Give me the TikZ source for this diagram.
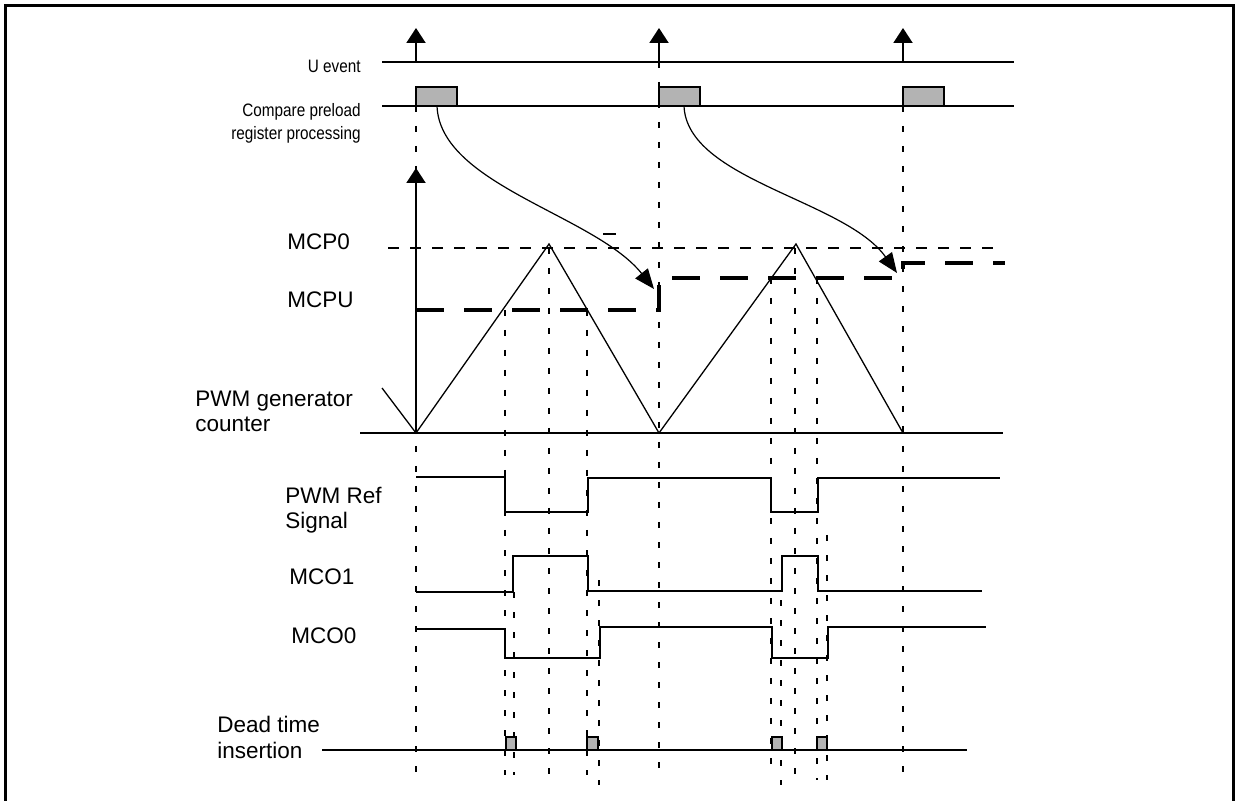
\documentclass[tikz,border=0pt]{standalone}
\usepackage{fontspec}
\setmainfont{Liberation Sans}
\newfontfamily\narrowsans[FakeStretch=0.85]{Liberation Sans}
\usetikzlibrary{arrows.meta}
\definecolor{slotgray}{RGB}{179,179,179}
\begin{document}
\begin{tikzpicture}[x=0.5pt, y=-0.5pt,
    sig/.style={line width=1pt},
    ramp/.style={line width=0.65pt},
    guide/.style={line width=1pt, dash pattern=on 3pt off 7pt},
    level/.style={line width=0.7pt, dash pattern=on 5.5pt off 5.5pt},
    cmp/.style={line width=2pt, dash pattern=on 14pt off 10pt},
    slot/.style={sig, fill=slotgray},
    toplbl/.style={font=\narrowsans\fontsize{9}{11.5}\selectfont, inner sep=0pt},
    lbl/.style={font=\fontsize{11.25}{12.75}\selectfont, inner sep=0pt, align=left},
    up/.style={-{Triangle[length=7.5pt,width=9.5pt]}},
    load/.style={-{Triangle[length=10pt,width=8pt]}, line width=0.6pt}]
    \useasboundingbox (0,0) rectangle (1236,801);

    % Frame
    \draw[line width=1.5pt] (5,801) |- (1233,6) -- (1233,801);

    % Time guides
    \foreach \t/\a/\b in {416/106/778, 659/62/778, 903/106/778,
                          505/310/775, 514/592/775, 549/248/778, 587/310/775, 599/580/785,
                          771/278/778, 781/600/785, 795/248/785, 817/278/780, 827/535/780}
        \draw[guide] (\t,\a) -- (\t,\b);

    % U event
    \draw[sig] (382,62) -- (1014,62);
    \foreach \t in {416,659,903}
        \draw[sig, up] (\t,62) -- (\t,28);
    \node[toplbl, anchor=base east] (uev) at (361,73) {U event};

    % Compare preload register processing
    \draw[sig] (382,106) -- (1014,106);
    \foreach \t in {416,659,903}
        \draw[slot] (\t,106) rectangle +(41,-19);
    \node[toplbl, anchor=base east, align=right] (cpr) at (361,140) {Compare preload\\register processing};

    % Counter
    \draw[sig] (360,433) -- (1003,433);
    \draw[sig, up] (416,433) -- (416,168);
    \draw[ramp] (382,388) -- (416,433) -- (549,244) -- (659,433) -- (796,244) -- (903,433);
    \node[lbl, anchor=base west] (cnt) at (195,432) {PWM generator\\counter};

    % Compare levels
    \draw[level] (388,248) -- (1000,248);
    \draw[cmp] (416,310) -- (659,310) -- (659,278) -- (903,278) -- (903,263) -- (1005,263);
    \draw[line width=0.7pt] (603,234) -- (616,234);
    \node[lbl, anchor=base west] (mcp0) at (287,250) {MCP0};
    \node[lbl, anchor=base west] (mcpu) at (287,308) {MCPU};

    % Preload transfer
    \draw[load] (437,106) .. controls (440,185) and (595,215) .. (654,289);
    \draw[load] (684,106) .. controls (687,180) and (845,200) .. (897,273);

    % PWM Ref Signal
    \draw[sig] (416,477) -- (505,477) -- (505,512) -- (588,512) -- (588,478) -- (771,478)
        -- (771,512) -- (818,512) -- (818,478) -- (1000,478);
    \node[lbl, anchor=base west] (ref) at (285,529) {PWM Ref\\Signal};

    % MCO1
    \draw[sig] (416,592) -- (513,592) -- (513,556) -- (588,556) -- (588,591) -- (782,591)
        -- (782,556) -- (818,556) -- (818,591) -- (982,591);
    \node[lbl, anchor=base west] (mco1) at (289,584) {MCO1};

    % MCO0
    \draw[sig] (416,629) -- (505,629) -- (505,658) -- (600,658) -- (600,627) -- (772,627)
        -- (772,658) -- (828,658) -- (828,627) -- (986,627);
    \node[lbl, anchor=base west] (mco0) at (291,643) {MCO0};

    % Dead time insertion
    \draw[sig] (322,750) -- (967,750);
    \foreach \a/\b in {506/516, 587/598, 772/782, 817/827}
        \draw[slot] (\a,750) rectangle (\b,737);
    \node[lbl, anchor=base west] (dead) at (217,758) {Dead time\\insertion};
\end{tikzpicture}
\end{document}
